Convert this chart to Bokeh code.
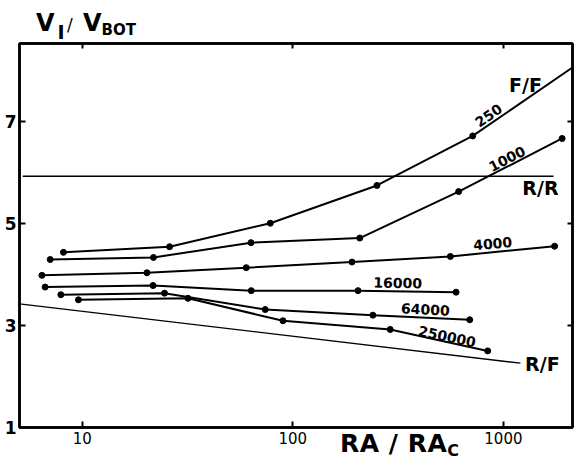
from bokeh.plotting import figure
from bokeh.models import Range1d, FixedTicker, LogAxis, LinearAxis, Label, Div
from bokeh.layouts import column
from bokeh.embed import file_html
from bokeh.resources import INLINE

# ---- data ----
# RA/RA_c values and V_I/V_BOT values for each Reynolds-number curve
c250_x = [8.15, 26.0, 78.2, 251, 715, 2127]
c250_y = [4.43, 4.54, 5.00, 5.74, 6.71, 8.05]
c1000_x = [7.05, 21.8, 63.3, 208, 613, 1900]
c1000_y = [4.29, 4.33, 4.62, 4.71, 5.62, 6.66]
c4000_x = [6.44, 20.3, 60.1, 191, 560, 1750]
c4000_y = [3.98, 4.03, 4.13, 4.24, 4.35, 4.55]
c16000_x = [6.67, 21.7, 63.5, 204, 596]
c16000_y = [3.75, 3.78, 3.68, 3.68, 3.65]
c64000_x = [7.92, 24.6, 74.0, 240, 692]
c64000_y = [3.60, 3.63, 3.31, 3.20, 3.11]
c250000_x = [9.6, 31.8, 89.8, 290, 842]
c250000_y = [3.50, 3.53, 3.09, 2.92, 2.50]
# reference limits
rr_x = [5.22, 1730]
rr_y = [5.92, 5.92]
rf_x = [5.04, 1204]
rf_y = [3.42, 2.26]

x_ticks = [10, 100, 1000]
y_ticks = [1, 3, 5, 7]

FONT = "DejaVu Sans"
W, H = 577, 463

p = figure(width=W, height=H, x_axis_type="log",
           x_range=Range1d(5.04, 2128), y_range=Range1d(1.0, 8.52),
           output_backend="svg", toolbar_location=None,
           min_border_left=19, min_border_right=5,
           min_border_top=43, min_border_bottom=36)
p.grid.visible = False
p.outline_line_color = "black"
p.outline_line_width = 2.5
p.background_fill_color = "white"
p.border_fill_color = "white"

# bottom axis
xa = p.xaxis[0]
xa.ticker = FixedTicker(ticks=x_ticks)
xa.major_label_overrides = {t: str(t) for t in x_ticks}
xa.major_tick_in = 6
xa.major_tick_out = 0
xa.minor_tick_line_color = None
xa.axis_line_width = 2.5
xa.major_tick_line_width = 2
xa.major_label_text_font = FONT
xa.major_label_text_font_size = "15px"
xa.major_label_text_color = "black"
xa.major_label_standoff = 4

# left axis
ya = p.yaxis[0]
ya.ticker = FixedTicker(ticks=y_ticks)
ya.major_tick_in = 6
ya.major_tick_out = 0
ya.minor_tick_line_color = None
ya.axis_line_width = 2.5
ya.major_tick_line_width = 2
ya.major_label_text_font = FONT
ya.major_label_text_font_style = "bold"
ya.major_label_text_font_size = "17px"
ya.major_label_text_color = "black"
ya.major_label_standoff = 3

# top and right tick marks (no labels)
top = LogAxis(ticker=FixedTicker(ticks=x_ticks), major_tick_in=5, major_tick_out=0,
              minor_tick_line_color=None, major_label_text_font_size="0px",
              major_label_standoff=0, axis_line_width=2.5, major_tick_line_width=2)
top.major_label_overrides = {t: "" for t in x_ticks}
p.add_layout(top, "above")
right = LinearAxis(ticker=FixedTicker(ticks=y_ticks[1:]), major_tick_in=5, major_tick_out=0,
                   minor_tick_line_color=None, major_label_text_font_size="0px",
                   major_label_standoff=0, axis_line_width=2.5, major_tick_line_width=2)
right.major_label_overrides = {t: "" for t in y_ticks}
p.add_layout(right, "right")

# reference lines
p.line(rr_x, rr_y, line_color="black", line_width=1.4)
p.line(rf_x, rf_y, line_color="black", line_width=1.4)

# curves
series = [(c250_x, c250_y), (c1000_x, c1000_y), (c4000_x, c4000_y),
          (c16000_x, c16000_y), (c64000_x, c64000_y), (c250000_x, c250000_y)]
for i, (xs, ys) in enumerate(series):
    p.line(xs, ys, line_color="black", line_width=2)
    if i == 0:
        mx, my = xs[:-1], ys[:-1]   # last point is the line running to the frame
    else:
        mx, my = xs, ys
    p.scatter(mx, my, size=6, color="black")

# curve labels (data positions)
def lab(x, y, t, ang=0, size="14px"):
    p.add_layout(Label(x=x, y=y, text=t, angle=ang, angle_units="deg",
                       text_align="center", text_baseline="middle",
                       text_font=FONT, text_font_style="bold",
                       text_font_size=size, text_color="black"))

lab(851, 7.11, "250", 35)
lab(1041, 6.26, "1000", 27)
lab(889, 4.60, "4000", 5)
lab(315, 3.83, "16000", -1)
lab(426, 3.31, "64000", -3)
lab(540, 2.78, "250000", -12)
lab(1272, 7.70, "F/F", 0, "19px")
lab(1499, 5.70, "R/R", 0, "19px")
lab(1531, 2.25, "R/F", 0, "19px")

# title and x-axis label (with subscripts) as an HTML overlay on the figure
def span(left, top_, size, txt, weight="bold", extra=""):
    return (f'<span style="position:absolute;left:{left}px;top:{top_}px;'
            f'font-size:{size}px;font-weight:{weight};line-height:1;'
            f'white-space:nowrap;{extra}">{txt}</span>')

overlay_html = (
    f'<div style="position:relative;width:{W}px;height:{H}px;'
    f'font-family:\'DejaVu Sans\';color:black;pointer-events:none">'
    + span(36, 11.4, 24, "V")
    + span(57.5, 23.2, 19, "I")
    + span(67, 17.3, 17, "/", "normal")
    + span(83, 11.4, 24, "V")
    + span(101.6, 23.3, 15, "BOT")
    + span(340, 431, 25,
           'RA / RA<span style="font-size:16px;position:relative;top:4px">C</span>',
           extra="letter-spacing:0.5px")
    + '</div>'
)
overlay = Div(text=overlay_html, width=W, height=H, margin=(-H, 0, 0, 0))

layout = column(p, overlay, spacing=0)

open("out.html", "w").write(file_html(layout, INLINE))
